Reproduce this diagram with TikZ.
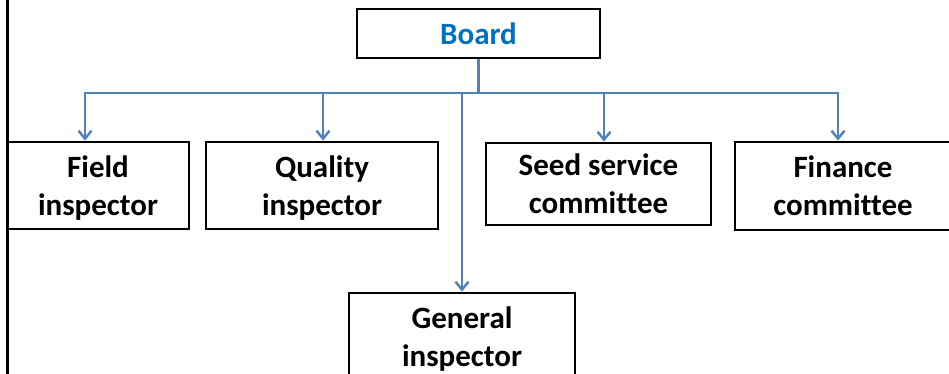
\documentclass[tikz,border=0pt]{standalone}
\usepackage{fontspec}
\setmainfont{Carlito}[Ligatures=NoCommon]
\usetikzlibrary{arrows.meta}
\definecolor{linkblue}{HTML}{4F81BD}
\definecolor{boardblue}{HTML}{0070C0}
\begin{document}
\begin{tikzpicture}[x=1pt,y=-1pt,
    box/.style={draw,line width=2.8pt,align=center,inner sep=0pt,
      font=\fontsize{31}{38}\selectfont\bfseries},
    twoline/.style={box,text depth=0pt},
    link/.style={linkblue,line width=2.4pt},
    tip/.style={-{Straight Barb[length=8pt,width=13pt]}}]
  \useasboundingbox (0,0) rectangle (949,374);
  \clip (0,0) rectangle (949,374);
  \draw[line width=3pt] (7,-2) -- (7,376);
  \draw
    (478.5,33.5) node[box,line width=2.2pt,minimum width=243pt,minimum height=49pt,text=boardblue] (board){Board}
    (98,185.5) node[twoline,minimum width=182pt,minimum height=87pt] (field){Field\\inspector}
    (322,185.5) node[twoline,minimum width=232pt,minimum height=87pt] (quality){Quality\\inspector}
    (598.5,184) node[twoline,minimum width=225pt,minimum height=82pt] (seed){Seed service\\committee}
    (843,186) node[twoline,minimum width=216pt,minimum height=88pt] (finance){Finance\\committee}
    (462,336.5) node[twoline,minimum width=226pt,minimum height=87pt] (general){General\\inspector};
  \coordinate (bus) at (478.5,93);
  \begin{scope}[link]
    \draw (board) -- (bus);
    \draw[tip] (bus) -| ([xshift=-13pt]field.north);
    \draw[tip] (bus) -| ([xshift=1pt]quality.north);
    \draw[tip] (bus) -| ([xshift=5.5pt]seed.north);
    \draw[tip] (bus) -| ([xshift=-5pt]finance.north);
    \draw[tip] (bus -| general.north) -- (general.north);
  \end{scope}
\end{tikzpicture}
\end{document}
